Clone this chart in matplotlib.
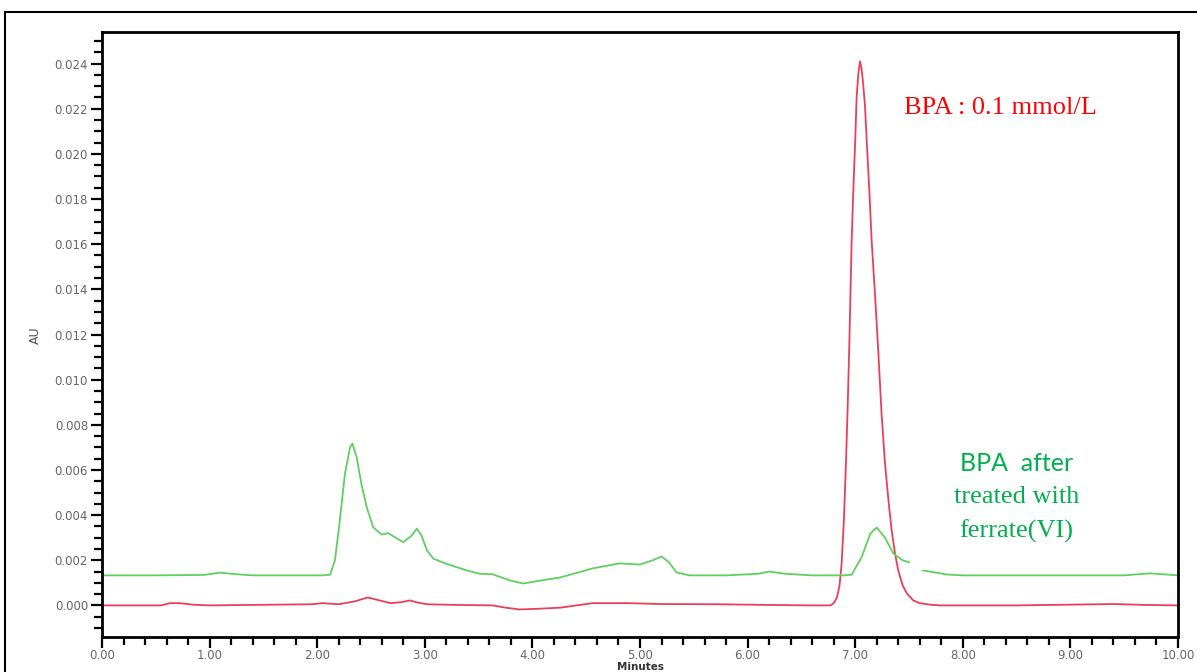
import matplotlib
matplotlib.use("Agg")
import matplotlib.pyplot as plt
from matplotlib.ticker import MultipleLocator, FormatStrFormatter
from matplotlib.patches import Rectangle
from matplotlib.lines import Line2D

# ---- data ----
red_x = [0.00, 0.55, 0.63, 0.72, 0.85, 1.00, 1.95, 2.05, 2.20, 2.35, 2.47, 2.58, 2.68,
         2.78, 2.86, 2.94, 3.02, 3.30, 3.63, 3.75, 3.88, 4.05, 4.26, 4.56, 4.88, 5.20,
         5.74, 6.20, 6.60, 6.77, 6.80, 6.83, 6.855, 6.874, 6.895, 6.914, 6.93, 6.945,
         6.967, 6.985, 7.00, 7.013, 7.03, 7.045, 7.058, 7.07, 7.09, 7.107, 7.13, 7.153,
         7.185, 7.215, 7.245, 7.277, 7.31, 7.339, 7.37, 7.40, 7.44, 7.48, 7.54, 7.60,
         7.70, 7.79, 8.50, 9.10, 9.40, 9.70, 10.00]
red_y = [0.0, 0.0, 0.0001, 0.0001, 0.00003, 0.0, 0.00005, 0.0001, 0.00005, 0.00018,
         0.00035, 0.00022, 0.0001, 0.00014, 0.00022, 0.00012, 0.00005, 0.00002, 0.0,
         -0.0001, -0.00018, -0.00015, -0.0001, 0.0001, 0.0001, 0.00006,
         0.00005, 0.00002, 0.0, 0.0, 0.0001, 0.00035, 0.0009, 0.00186, 0.0038, 0.00628,
         0.0088, 0.0115, 0.01615, 0.0187, 0.02058, 0.0225, 0.0236, 0.0241, 0.0238,
         0.0233, 0.0222, 0.02058, 0.0185, 0.01615, 0.0137, 0.0112, 0.0085, 0.00628,
         0.0046, 0.00332, 0.0023, 0.00155, 0.0009, 0.00053, 0.00022, 0.0001, 0.00003,
         0.0, 0.0, 0.00004, 0.00006, 0.00002, 0.0]

green_x = [0.00, 0.50, 0.95, 1.10, 1.25, 1.40, 1.80, 2.05, 2.12, 2.165, 2.21, 2.258,
           2.305, 2.327, 2.367, 2.41, 2.46, 2.52, 2.60, 2.66, 2.73, 2.80, 2.88, 2.925,
           2.97, 3.02, 3.08, 3.20, 3.39, 3.51, 3.63, 3.79, 3.91, 4.26, 4.56, 4.81, 5.00,
           5.12, 5.20, 5.27, 5.34, 5.46, 5.80, 6.10, 6.20, 6.35, 6.60, 6.90, 6.967, 7.06,
           7.14, 7.20, 7.277, 7.354, 7.44, 7.51, 7.63, 7.85, 8.00, 8.50, 9.50, 9.74,
           10.00]
green_y = [0.00133, 0.00133, 0.00135, 0.00145, 0.00138, 0.00133, 0.00133, 0.00133,
           0.00136, 0.0020, 0.00376, 0.00584, 0.0070, 0.00717, 0.00656, 0.0054, 0.00435,
           0.00346, 0.00314, 0.0032, 0.0030, 0.0028, 0.0031, 0.0034, 0.0031, 0.00243,
           0.00207, 0.00184, 0.00155, 0.0014, 0.00138, 0.00111, 0.00097, 0.00124,
           0.00164, 0.00186, 0.00181, 0.0020, 0.00217, 0.0019, 0.00146, 0.00133,
           0.00133, 0.00140, 0.00150, 0.00140, 0.00133, 0.00133, 0.00136, 0.00214,
           0.00318, 0.00345, 0.0030, 0.0023, 0.0020, 0.0019, 0.00155, 0.00137, 0.00133,
           0.00133, 0.00133, 0.00142, 0.00133]

x_ticks = [0, 1, 2, 3, 4, 5, 6, 7, 8, 9, 10]
y_ticks = [0.000, 0.002, 0.004, 0.006, 0.008, 0.010, 0.012, 0.014, 0.016, 0.018,
           0.020, 0.022, 0.024]

fig = plt.figure(figsize=(11.97, 6.72), dpi=100)
ax = fig.add_axes([102/1197, 1-637/672, (1178-102)/1197, (637-32)/672])

ax.plot(red_x, red_y, color='#e8405a', lw=1.3, zorder=2)
ax.plot(green_x, green_y, color='#5fd060', lw=1.3, zorder=2)

# white text box covering part of the green trace
ax.add_patch(Rectangle((7.51, 0.00155), 2.0, 0.0062, facecolor='white',
                       edgecolor='none', zorder=3))

ax.set_xlim(0, 10)
ax.set_ylim(-0.0014, 0.0254)
ax.set_xticks(x_ticks)
ax.set_yticks(y_ticks)
ax.xaxis.set_major_formatter(FormatStrFormatter('%.2f'))
ax.yaxis.set_major_formatter(FormatStrFormatter('%.3f'))
ax.xaxis.set_minor_locator(MultipleLocator(0.2))
ax.yaxis.set_minor_locator(MultipleLocator(0.0005))
ax.tick_params(which='major', direction='out', length=8, width=1.6,
               labelsize=8.5, labelcolor='#666666', pad=2)
ax.tick_params(which='minor', direction='out', length=6, width=1.6)
ax.tick_params(axis='x', which='major', top=False, pad=0.5)
for s in ax.spines.values():
    s.set_linewidth(2)
    s.set_color('black')

fig.text(35/1197, 1-335/672, 'AU', rotation=90, ha='center', va='center',
         fontsize=9, color='#555555')
fig.text(640/1197, 0.5/672, 'Minutes', ha='center', va='bottom',
         fontsize=7.5, fontweight='bold', color='#333333')

ax.text(7.45, 0.02204, 'BPA : 0.1 mmol/L', color='red', fontsize=19,
        family='Liberation Serif', ha='left', va='center', zorder=5)
ax.text(8.50, 0.00628, 'BPA  after', color='#00b050', fontsize=18,
        family='Lato', ha='center', va='center', zorder=5)
ax.text(8.50, 0.00478, 'treated with', color='#00b050', fontsize=19,
        family='Liberation Serif', ha='center', va='center', zorder=5)
ax.text(8.50, 0.00327, 'ferrate(VI)', color='#00b050', fontsize=19,
        family='Liberation Serif', ha='center', va='center', zorder=5)

# outer frame
fig.add_artist(Line2D([5/1197, 5/1197], [0, 1-12/672], color='black', lw=1.5,
                      transform=fig.transFigure))
fig.add_artist(Line2D([5/1197, 1], [1-12/672, 1-12/672], color='black', lw=1.5,
                      transform=fig.transFigure))

fig.savefig('out.png', dpi=100, facecolor='white')
